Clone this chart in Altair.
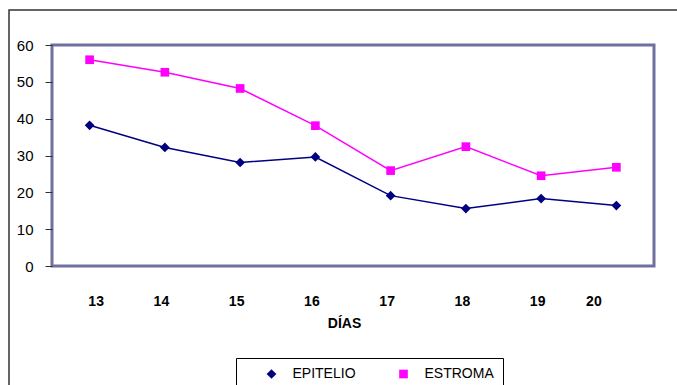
import altair as alt
import pandas as pd

days = [13, 14, 15, 16, 17, 18, 19, 20]
epitelio = [38.2, 32.2, 28.1, 29.6, 19.1, 15.6, 18.3, 16.4]
estroma = [56.0, 52.6, 48.2, 38.1, 25.9, 32.4, 24.5, 26.8]
series = ["EPITELIO", "ESTROMA"]
series_colors = ["#000080", "#ff00ff"]
y_ticks = [0, 10, 20, 30, 40, 50, 60]

serie_col = [series[0]] * len(days) + [series[1]] * len(days)
df = pd.DataFrame({
    "dia": days + days,
    "valor": epitelio + estroma,
    "serie": serie_col,
    "marcador": serie_col,
})
frame_df = pd.DataFrame({"k": [0]})

color_scale = alt.Scale(domain=series, range=series_colors)

# legend symbol = thin filled bar (the line) + marker, same winding so both fill
bar = "M-3.7,-0.15L3.7,-0.15L3.7,0.15L-3.7,0.15Z"
legend_shape = (
    f"datum.value === '{series[0]}' ? "
    f"'{bar}M-0.75,0L0,-0.75L0.75,0L0,0.75Z' : "
    f"'{bar}M-0.7,-0.7L0.7,-0.7L0.7,0.7L-0.7,0.7Z'"
)
legend_color = f"datum.value === '{series[0]}' ? '{series_colors[0]}' : '{series_colors[1]}'"

legend = alt.Legend(
    title=None, orient="none", legendX=184, legendY=313,
    direction="horizontal", strokeColor="black", fillColor="white",
    padding=9, symbolSize=100, symbolOffset=19.5, labelOffset=14,
    columnPadding=21, labelFont="Arial", labelFontSize=14, labelColor="black",
    symbolStrokeWidth=0, symbolType=alt.ExprRef(legend_shape),
    symbolFillColor=alt.ExprRef(legend_color),
    symbolStrokeColor=alt.ExprRef(legend_color),
)

x = alt.X(
    "dia:O",
    scale=alt.Scale(type="point", padding=0.5),
    axis=alt.Axis(
        title="DÍAS", labelAngle=0, ticks=False, domain=False,
        labelFont="Arial", labelFontSize=14, labelFontWeight="bold",
        labelColor="black", labelPadding=28,
        labelOffset=alt.ExprRef("datum.value == 20 ? -23 : (datum.value == 13 ? 6 : -4)"),
        titleFont="Arial", titleFontSize=14, titleFontWeight="bold",
        titleColor="black", titlePadding=8, titleX=292,
    ),
)
y = alt.Y(
    "valor:Q",
    scale=alt.Scale(domain=[0, 60], nice=False),
    axis=alt.Axis(
        title=None, values=y_ticks, grid=False, domain=False,
        tickSize=7, tickColor="#333333", tickWidth=1,
        labelFont="Arial", labelFontSize=15, labelColor="black", labelPadding=12,
    ),
)

frame = alt.Chart(frame_df).mark_rect(
    fill=None, stroke="#333333", strokeWidth=1.5, clip=False
).encode(
    x=alt.value(-43), y=alt.value(-35), x2=alt.value(700), y2=alt.value(400)
)

lines = alt.Chart(df).mark_line(strokeWidth=1.5).encode(
    x=x, y=y,
    stroke=alt.Stroke("serie:N", scale=color_scale, legend=legend),
)

marker_color = alt.Scale(domain=series, range=series_colors)
points = alt.Chart(df).mark_point(filled=True, opacity=1, strokeWidth=0.5).encode(
    x=x, y=y,
    fill=alt.Fill("marcador:N", scale=marker_color, legend=None),
    shape=alt.Shape("marcador:N", scale=alt.Scale(domain=series, range=["diamond", "square"]), legend=None),
    size=alt.Size("marcador:N", scale=alt.Scale(domain=series, range=[95, 75]), legend=None),
)

chart = alt.layer(frame, lines, points).properties(
    width=602, height=221,
    autosize=alt.AutoSizeParams(type="none"),
    padding={"left": 52, "top": 45, "right": 23, "bottom": 119},
).configure(background="white").configure_view(stroke="#6f6fa0", strokeWidth=3)

chart.save("out.html", embed_options={"renderer": "svg", "actions": False})
